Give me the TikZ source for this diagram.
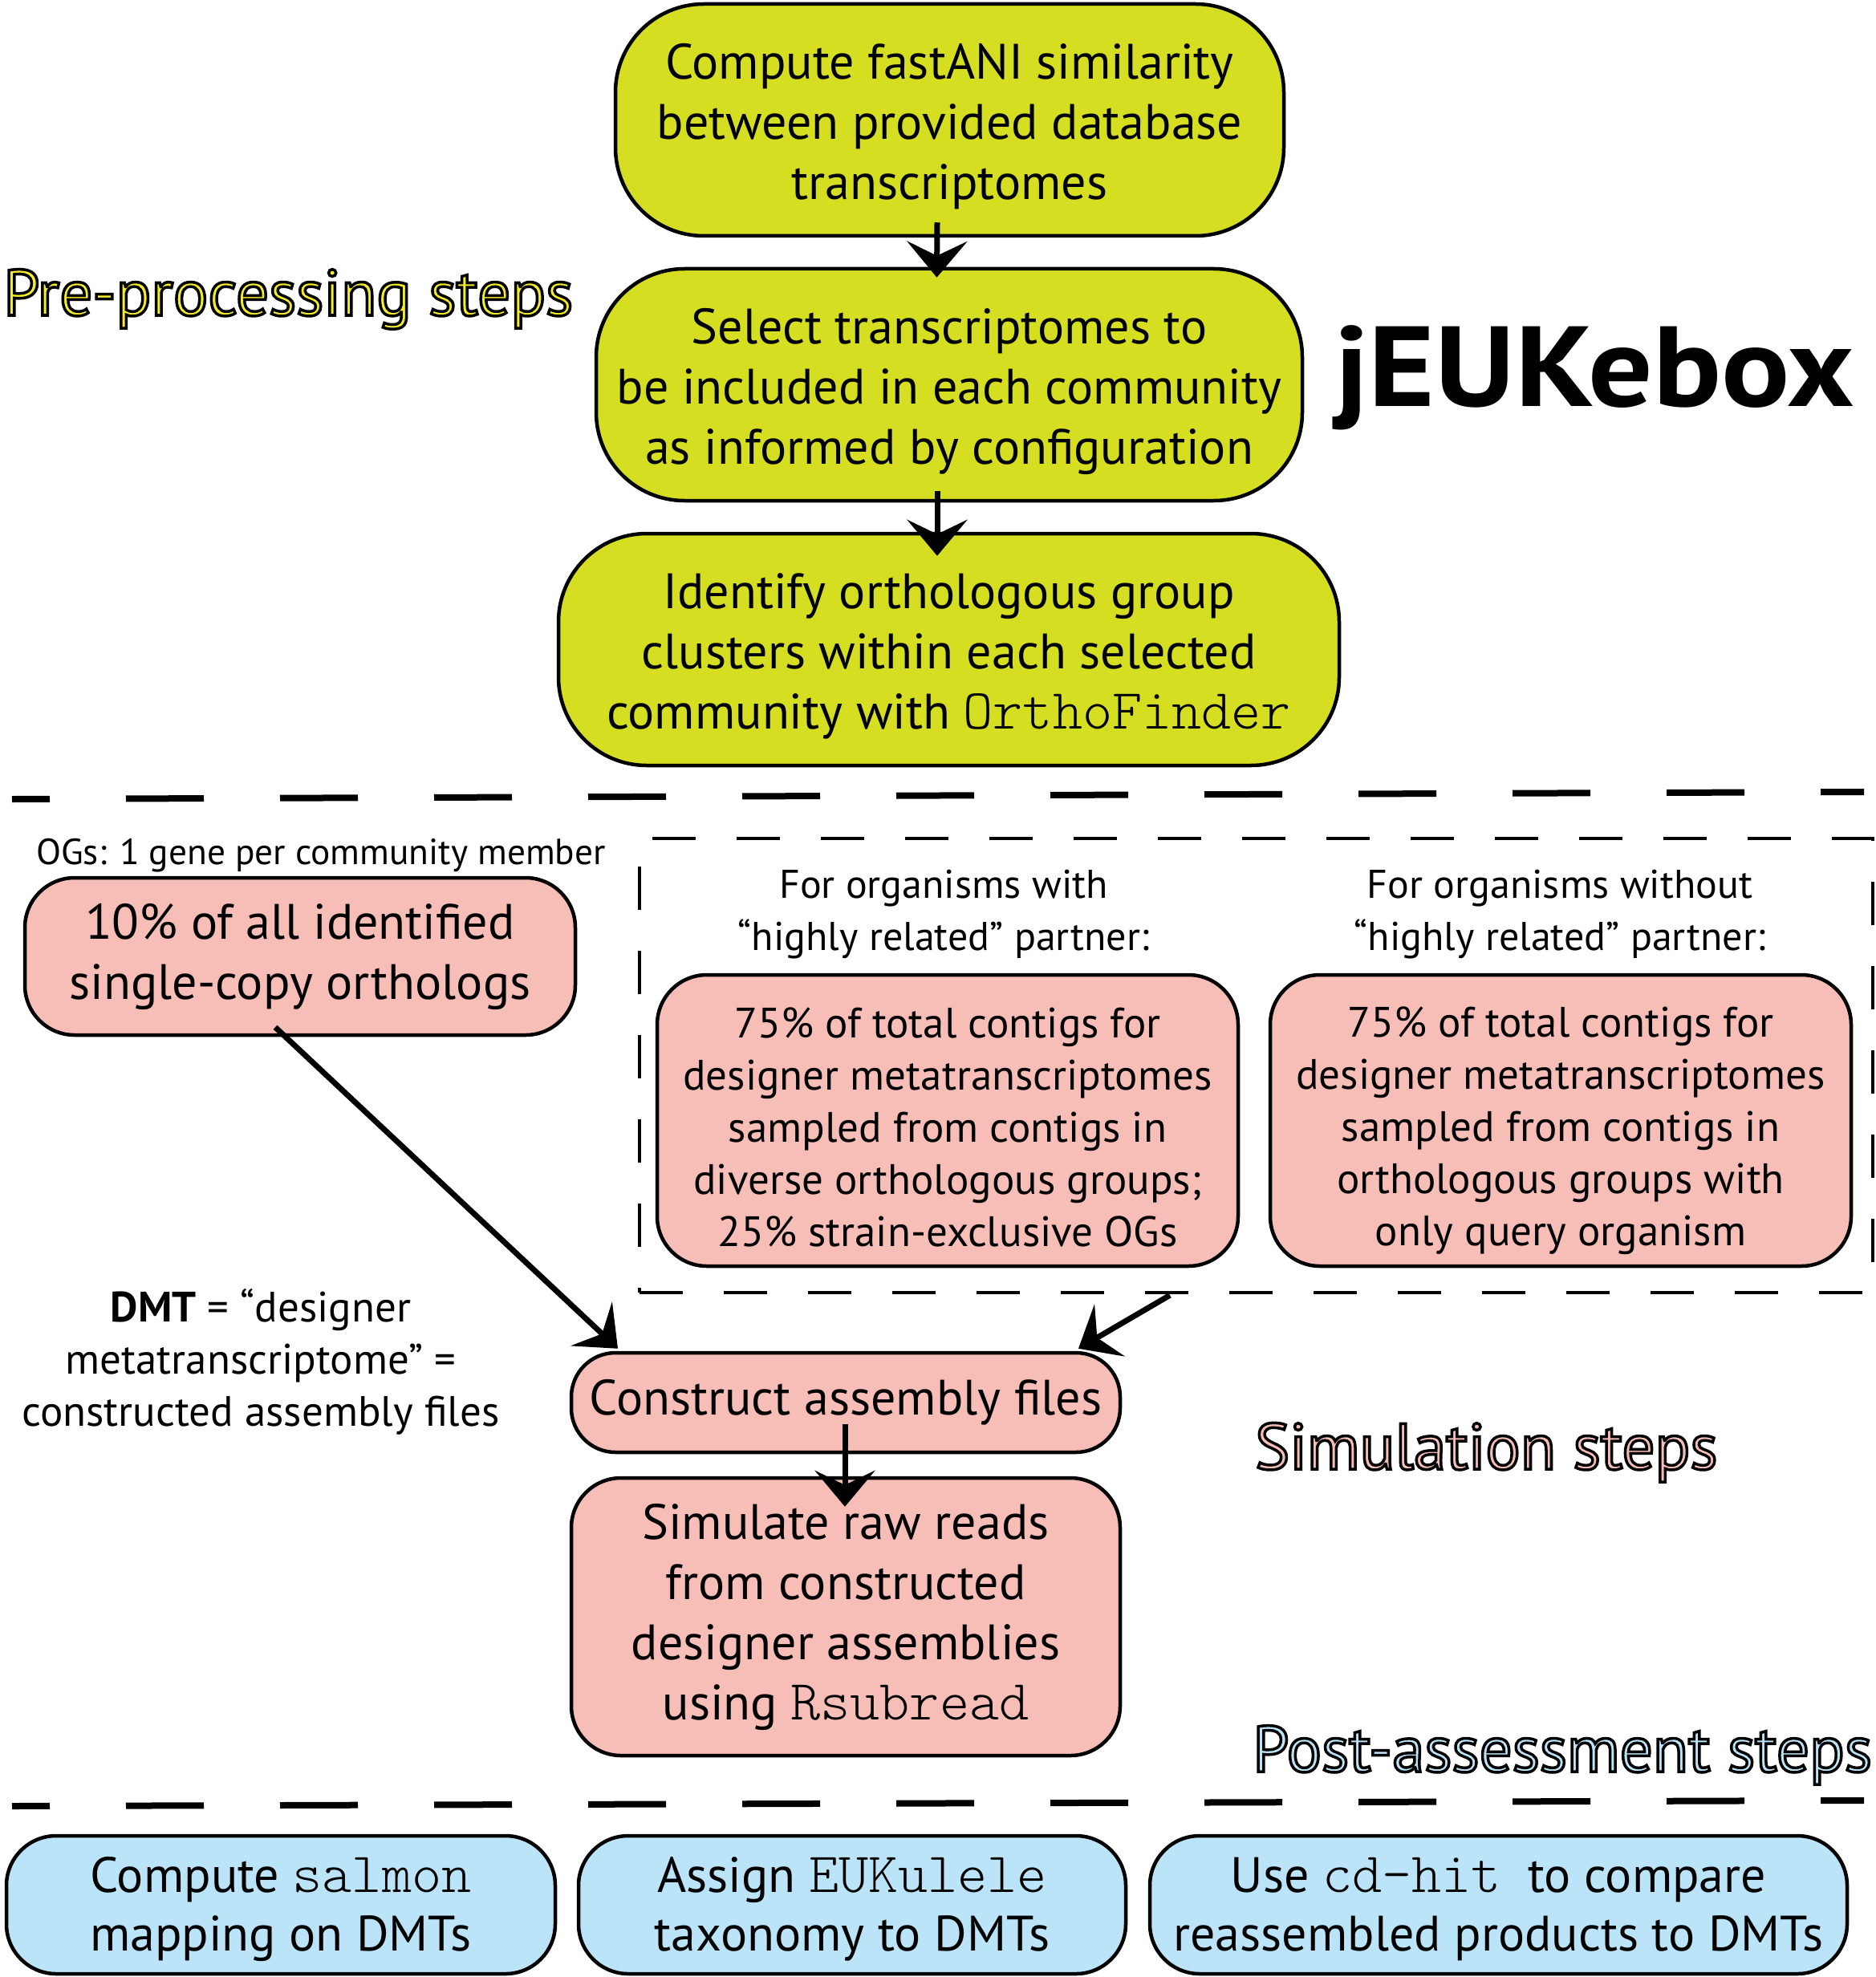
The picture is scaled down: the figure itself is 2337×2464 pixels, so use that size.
\documentclass[tikz,border=0pt]{standalone}
\usepackage{fontspec}
\setmainfont{PT Sans}
\IfFontExistsTF{Latin Modern Mono Light}{\setmonofont{Latin Modern Mono Light}[Scale=1.14]}{\setmonofont{Liberation Mono}}
\newfontfamily\titlefont{PT Sans}[FakeStretch=1.12]
\usetikzlibrary{arrows.meta}
\definecolor{ybox}{RGB}{214,222,33}
\definecolor{pbox}{RGB}{247,190,184}
\definecolor{bbox}{RGB}{187,228,248}
\definecolor{ylab}{RGB}{245,237,40}
\newcommand{\outlinedtext}[1]{\special{pdf:literal direct 0 0 0 RG 3.5 w 2 Tr}#1\special{pdf:literal direct 0 Tr}}
\begin{document}
\begin{tikzpicture}[x=1pt,y=-1pt,
  box/.style={draw, line width=4.5pt, inner sep=0pt},
  txt/.style={align=center, inner sep=0pt, text=black},
  big/.style={font=\fontsize{62}{75}\selectfont},
  mid/.style={font=\fontsize{53}{65}\selectfont},
  ybx/.style={box, fill=ybox, rounded corners=110pt, minimum height=289pt},
  pbx/.style={box, fill=pbox, rounded corners=62pt},
  bbx/.style={box, fill=bbox, rounded corners=62pt, minimum width=684pt, minimum height=172pt},
  arr/.style={line width=7pt, -{Stealth[length=45pt, width=75pt, inset=18pt]}},
  sep/.style={line width=8pt, dash pattern=on 97pt off 95pt, dash phase=50pt},
  grpbox/.style={draw, line width=4.5pt, dash pattern=on 54pt off 51pt, inner sep=0pt},
  steplabel/.style={anchor=base west, inner sep=0pt, font=\fontsize{81}{90}\selectfont}
]
\useasboundingbox (0,0) rectangle (2337,2464);

% pre-processing boxes
\node[ybx, minimum width=833pt] (b1) at (1183.5,149.5) {};
\node[txt, big] (b1t) at ([shift={(0,8)}]b1.center) {Compute fastANI similarity\\between provided database\\transcriptomes};
\node[ybx, minimum width=880pt] (b2) at (1183,479.5) {};
\node[txt, big] (b2t) at ([shift={(0,8)}]b2.center) {Select transcriptomes to\\be included in each community\\as informed by configuration};
\node[ybx, minimum width=973pt] (b3) at (1182.5,809.5) {};
\node[txt, big] (b3t) at ([shift={(0,8)}]b3.center) {Identify orthologous group\\clusters within each selected\\community with \texttt{OrthoFinder}};

\draw[arr] ([shift={(-15.5,-19)}]b1.south) -- ([shift={(-15.5,13)}]b2.north);
\draw[arr] ([shift={(-15,-14)}]b2.south) -- ([shift={(-14.5,30)}]b3.north);

\node[steplabel, text=ylab] (lpre) at (4,393) {\outlinedtext{Pre-processing steps}};
\node[anchor=base west, inner sep=0pt, font=\titlefont\fontsize{142}{150}\bfseries\selectfont] (title) at (1663,506) {jEUKebox};

% separators
\coordinate (s1a) at (15,996);
\coordinate (s1b) at (2323,987);
\draw[sep] (s1a) -- (s1b);
\coordinate (s2a) at (15,2251);
\coordinate (s2b) at (2323,2244);
\draw[sep] (s2a) -- (s2b);

% simulation section
\node[txt, font=\fontsize{45.3}{50}\selectfont] (og) at (400,1066) {OGs: 1 gene per community member};
\node[pbx, minimum width=686pt, minimum height=196pt] (b10) at (374,1192) {};
\node[txt, big] (b10t) at (b10.center) {10\% of all identified\\single-copy orthologs};

\node[grpbox, minimum width=1537pt, minimum height=566pt] (grp) at (1565.5,1328) {};
\node[txt, font=\fontsize{50}{65}\selectfont] (fa) at (1176,1140) {For organisms with\\“highly related” partner:};
\node[txt, font=\fontsize{50}{65}\selectfont] (fb) at (1944,1140) {For organisms without\\“highly related” partner:};
\node[pbx, minimum width=724pt, minimum height=363pt] (pa) at (1181,1396.5) {};
\node[txt, mid] (pat) at ([shift={(0,8)}]pa.center) {75\% of total contigs for\\designer metatranscriptomes\\sampled from contigs in\\diverse orthologous groups;\\25\% strain-exclusive OGs};
\node[pbx, minimum width=724pt, minimum height=363pt] (pb) at (1945,1396.5) {};
\node[txt, mid] (pbt) at ([shift={(0,13)}]pb.center) {75\% of total contigs for\\designer metatranscriptomes\\sampled from contigs in\\orthologous groups with\\only query organism};

\node[txt, mid] (dmt) at (325,1697) {\textbf{DMT} = “designer\\metatranscriptome” =\\constructed assembly files};

\node[pbx, rounded corners=55pt, minimum width=684pt, minimum height=124pt] (cons) at (1054,1748) {};
\node[txt, big] (const) at (cons.center) {Construct assembly files};
\node[pbx, minimum width=684pt, minimum height=346pt] (sim) at (1054,2015) {};
\node[txt, big] (simt) at (sim.center) {Simulate raw reads\\from constructed\\designer assemblies\\using \texttt{Rsubread}};

\draw[arr] ([shift={(-31,-12)}]b10.south) -- ([shift={(-284,-3)}]cons.north);
\draw[arr] ([shift={(-107.5,1)}]grp.south) -- ([shift={(290,-3)}]cons.north);
\draw[arr] ([shift={(-1,-37)}]cons.south) -- ([shift={(-1,38)}]sim.north);

\node[steplabel, text=pbox] (lsim) at (1564,1831) {\outlinedtext{Simulation steps}};
\node[steplabel, text=bbox] (lpost) at (1561,2208) {\outlinedtext{Post-assessment steps}};

% post-assessment boxes
\node[bbx] (c1) at (350,2374) {};
\node[txt, font=\fontsize{62}{73}\selectfont] (c1t) at ([shift={(0,5)}]c1.center) {Compute \texttt{salmon}\\mapping on DMTs};
\node[bbx, minimum width=682pt] (c2) at (1062,2374) {};
\node[txt, font=\fontsize{62}{73}\selectfont] (c2t) at ([shift={(0,5)}]c2.center) {Assign \texttt{EUKulele}\\taxonomy to DMTs};
\node[bbx, minimum width=869pt] (c3) at (1867.5,2374) {};
\node[txt, font=\fontsize{62}{73}\selectfont] (c3t) at ([shift={(0,5)}]c3.center) {Use \texttt{cd-hit}\ \ to compare\\reassembled products to DMTs};
\end{tikzpicture}
\end{document}
